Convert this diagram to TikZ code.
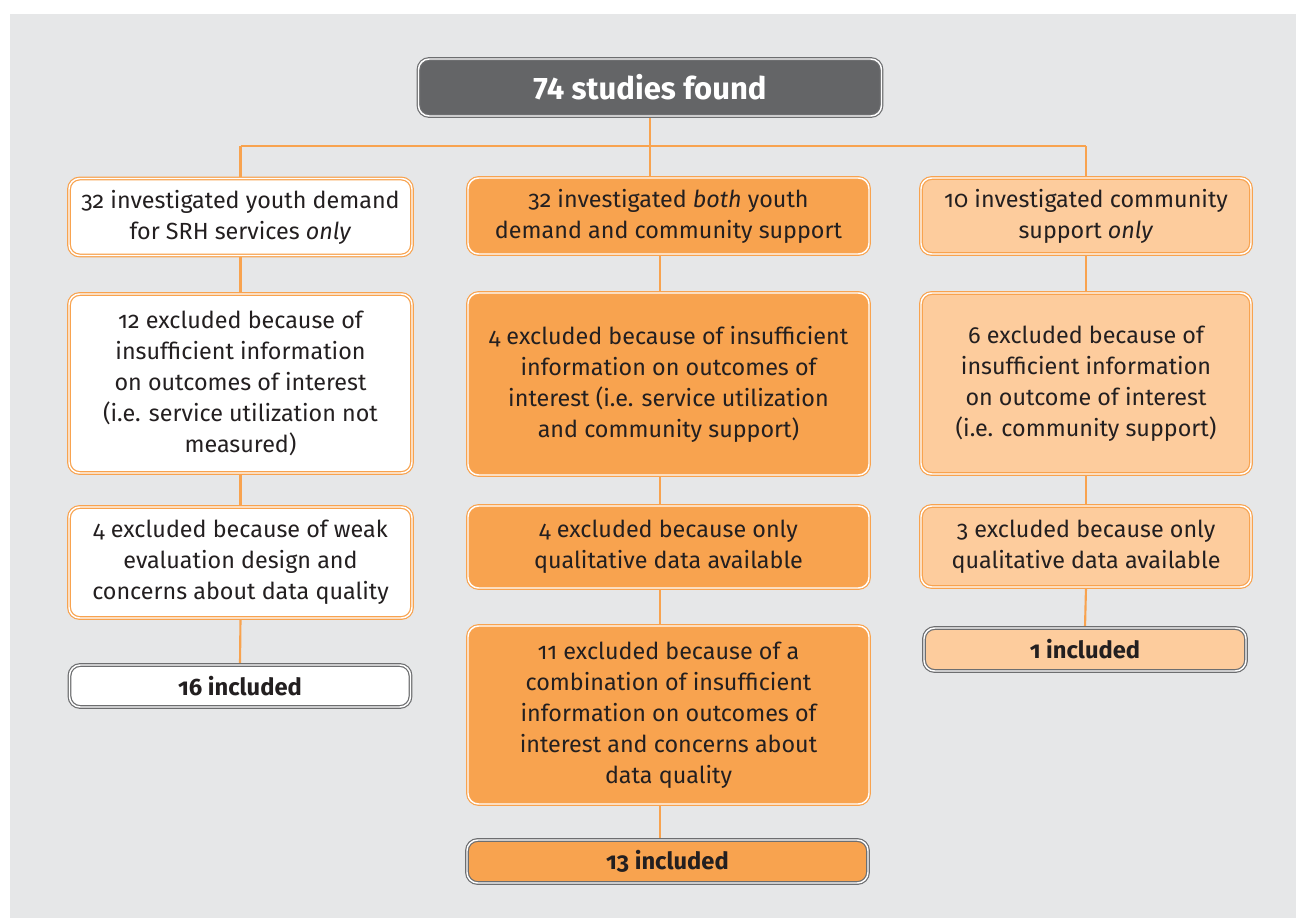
\documentclass[tikz,border=0pt]{standalone}
\usepackage{fontspec}
\setmainfont{Fira Sans}[Numbers=OldStyle]
\usetikzlibrary{backgrounds}

\definecolor{panelgray}{HTML}{E6E7E8}
\definecolor{darkbox}{HTML}{646567}
\definecolor{boxgray}{HTML}{6D6E70}
\definecolor{ora}{HTML}{F8A34F}
\definecolor{oralight}{HTML}{FDCC9D}
\definecolor{ink}{HTML}{231F20}

\tikzset{
	box/.style={draw=ora, double=white, line width=0.9pt, double distance=1.1pt,
		rounded corners=8pt, align=center, inner sep=0pt, text=ink,
		font=\fontsize{17.5pt}{23.3pt}\selectfont},
	sz/.style 2 args={minimum width=#1*0.75pt, minimum height=#2*0.75pt},
	incl/.style={box, draw=boxgray, font=\fontsize{17.8pt}{23.3pt}\selectfont\bfseries},
	found/.style={box, draw=boxgray, fill=darkbox, text=white,
		font=\fontsize{23.3pt}{26pt}\selectfont\bfseries\addfontfeature{Numbers=Lining}},
	youth/.style={fill=white},
	both/.style={fill=ora},
	comm/.style={fill=oralight},
	link/.style={draw=ora, line width=1.6pt},
}

\begin{document}
\begin{tikzpicture}[x=0.75pt, y=-0.75pt]
	\useasboundingbox (0,0) rectangle (1296,918);

	\node[found, sz={463}{57}] (total) at (650,87.5) {74 studies found};

	% youth demand only
	\node[box, youth, sz={343}{77}] (yd) at (240.5,217) {32 investigated youth demand\\for SRH services \textit{only}};
	\node[box, youth, sz={343}{179}] (ydinf) at (240.5,383.5) {12 excluded because of\\insufficient information\\on outcomes of interest\\(i.e. service utilization not\\measured)};
	\node[box, youth, sz={343}{111}] (ydweak) at (240.5,562.5) {4 excluded because of weak\\evaluation design and\\concerns about data quality};
	\node[incl, youth, sz={341}{42}] (ydinc) at (240,686) {16 included};

	% both
	\node[box, both, sz={401}{76}] (bo) at (668.5,216) {32 investigated \textit{both} youth\\demand and community support};
	\node[box, both, sz={401}{182}] (boinf) at (668.5,384) {4 excluded because of insufficient\\information on outcomes of\\interest (i.e. service utilization\\and community support)};
	\node[box, both, sz={401}{82}] (boqual) at (668.5,547) {4 excluded because only\\qualitative data available};
	\node[box, both, sz={401}{178}] (bomix) at (668.5,715) {11 excluded because of a\\combination of insufficient\\information on outcomes of\\interest and concerns about\\data quality};
	\node[incl, both, sz={401}{43}] (boinc) at (667.5,861.5) {13 included};

	% community support only
	\node[box, comm, sz={330}{76}] (cs) at (1086,216) {10 investigated community\\support \textit{only}};
	\node[box, comm, sz={330}{181}] (csinf) at (1086,383.5) {6 excluded because of\\insufficient information\\on outcome of interest\\(i.e. community support)};
	\node[box, comm, sz={330}{81}] (csqual) at (1086,546.5) {3 excluded because only\\qualitative data available};
	\node[incl, comm, sz={322}{43}] (csinc) at (1085,649.5) {1 included};

	\begin{scope}[on background layer]
		\fill[panelgray] (10,14) rectangle (1296,918);
		\coordinate (bar) at (0,146);
		\coordinate (spine) at (660,0);
		\draw[link] (yd.north |- bar) -- (cs.north |- bar);
		\draw[link] (total.south) -- (total.south |- bo.north);
		\draw[link] (yd.north |- bar) -- (yd.north);
		\draw[link] (cs.north |- bar) -- (cs.north);
		\foreach \a/\b in {yd/ydinf, ydinf/ydweak, ydweak/ydinc, cs/csinf, csinf/csqual, csqual/csinc}
			\draw[link] (\a.south) -- (\b.north);
		\foreach \a/\b in {bo/boinf, boinf/boqual, boqual/bomix, bomix/boinc}
			\draw[link] (\a.south -| spine) -- (\b.north -| spine);
	\end{scope}
\end{tikzpicture}
\end{document}
